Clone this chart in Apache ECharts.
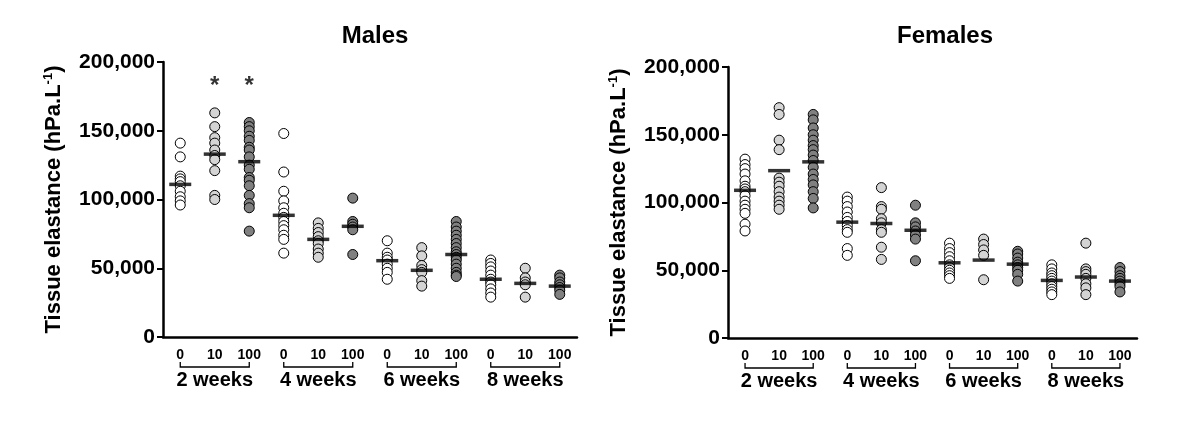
<!DOCTYPE html>
<html>
<head>
<meta charset="utf-8">
<title>Tissue elastance</title>
<script src="https://cdn.jsdelivr.net/npm/echarts@6/dist/echarts.min.js"></script>
<style>
  html, body { margin: 0; padding: 0; background: #fff; }
  #chart { width: 1200px; height: 422px; }
</style>
</head>
<body>
<div id="chart"></div>
<script>
// x axis: dose (0, 10, 100) inside each week group
const doseLabels = ['0', '10', '100', '0', '10', '100', '0', '10', '100', '0', '10', '100'];
const weekLabels = ['2 weeks', '4 weeks', '6 weeks', '8 weeks'];
const yMin = 0;
const yMax = 200000;
const yStep = 50000;

// Males, one inner list per week (2, 4, 6, 8)
const maleDose0 = [
  [141000, 131000, 117000, 115000, 113000, 110000, 106000, 102000, 99000, 96000],
  [148000, 120000, 106000, 99000, 94000, 90000, 87000, 84000, 81000, 78000, 74000, 71000, 61000],
  [70000, 61000, 58000, 56000, 53000, 50000, 47000, 42000],
  [56000, 53500, 51000, 48000, 45000, 42000, 40000, 38000, 35000, 32000, 29000]
];
const maleDose10 = [
  [163000, 153000, 145000, 141000, 136000, 132000, 129000, 121000, 103000, 100000],
  [83000, 79000, 76000, 73000, 70000, 68000, 64000, 61000, 58000],
  [65000, 59000, 52000, 49000, 47000, 41000, 37000],
  [50000, 43000, 40000, 38000, 29000]
];
const maleDose100 = [
  [156000, 153000, 150000, 146000, 143000, 138000, 136000, 131000, 125000, 122000, 116000, 114000, 110000, 103000, 97000, 94000, 77000],
  [101000, 84000, 82000, 80000, 78000, 60000],
  [84000, 80000, 77000, 74000, 71000, 68000, 65000, 62000, 60000, 58000, 56000, 53000, 50000, 47000, 45000, 44000],
  [45000, 43000, 40000, 38000, 36000, 34000, 31000]
];
const maleMedians = [111000, 133000, 127500, 88500, 71000, 80500, 55500, 48500, 60000, 42000, 39000, 37000];
const maleStars = [1, 2];
const starLevel = 182000;

// Females
const femaleDose0 = [
  [132000, 128000, 125000, 121000, 116000, 112000, 110000, 108000, 105000, 101000, 98000, 95000, 92000, 84000, 79000],
  [104000, 101000, 97000, 93000, 89000, 86000, 83000, 80000, 78000, 66000, 61000],
  [70000, 66000, 63000, 60000, 57000, 54000, 52000, 50000, 48000, 46000, 44000],
  [54000, 51000, 48000, 46000, 44000, 42000, 40000, 38000, 36000, 34000, 32000]
];
const femaleDose10 = [
  [170000, 165000, 146000, 139000, 118000, 115000, 112000, 108000, 104000, 101000, 98000, 95000],
  [111000, 97000, 95000, 88000, 85000, 80000, 78000, 67000, 58000],
  [73000, 69000, 65000, 61000, 43000],
  [70000, 51000, 49000, 47000, 44000, 40000, 37000, 32000]
];
const femaleDose100 = [
  [165000, 161000, 155000, 150000, 146000, 142000, 139000, 135000, 131000, 126000, 121000, 117000, 113000, 108000, 103000, 96000],
  [98000, 85000, 82000, 79000, 76000, 73000, 57000],
  [64000, 62000, 59000, 56000, 54000, 52000, 50000, 47000, 42000],
  [52000, 49000, 46000, 44000, 42000, 40000, 38000, 34000]
];
const femaleMedians = [109000, 123500, 130000, 85500, 84500, 79500, 55500, 57500, 54500, 42500, 45000, 42000];

const doseColors = ['#ffffff', '#d4d4d4', '#808080'];
const FONT = 'Liberation Sans, Arial, sans-serif';

function doseSeries(groups, dose, xi, yi) {
  return {
    type: 'scatter',
    xAxisIndex: xi,
    yAxisIndex: yi,
    symbol: 'circle',
    symbolSize: 10,
    itemStyle: { color: doseColors[dose], borderColor: '#000', borderWidth: 1, opacity: 1 },
    data: groups.flatMap((vals, w) => vals.map(v => [w * 3 + dose, v])),
    z: 3
  };
}

function medianSeries(medians, xi, yi) {
  return {
    type: 'scatter',
    xAxisIndex: xi,
    yAxisIndex: yi,
    symbol: 'rect',
    symbolSize: [22, 3.5],
    itemStyle: { color: '#000' },
    data: medians.map((m, i) => [i, m]),
    z: 5
  };
}

function bracketSeries(xi, yi) {
  return {
    type: 'custom',
    xAxisIndex: xi,
    yAxisIndex: yi,
    clip: false,
    silent: true,
    data: weekLabels.map((w, i) => [i * 3, i * 3 + 2]),
    renderItem: function (params, api) {
      const a = api.coord([api.value(0), 0]);
      const b = api.coord([api.value(1), 0]);
      const y = a[1] + 30;
      return {
        type: 'polyline',
        shape: { points: [[a[0], y - 5], [a[0], y], [b[0], y], [b[0], y - 5]] },
        style: { stroke: '#000', lineWidth: 1.3, fill: null }
      };
    }
  };
}

function doseAxis(gi) {
  return {
    type: 'category',
    gridIndex: gi,
    data: doseLabels,
    boundaryGap: true,
    axisLine: { lineStyle: { color: '#000', width: 2.5 } },
    axisTick: { alignWithLabel: true, length: 6, lineStyle: { color: '#000', width: 2 } },
    axisLabel: { interval: 0, margin: 11, color: '#000', fontFamily: FONT, fontWeight: 'bold', fontSize: 14 },
    splitLine: { show: false }
  };
}

function weekAxis(gi) {
  return {
    type: 'category',
    gridIndex: gi,
    position: 'bottom',
    data: weekLabels,
    boundaryGap: true,
    axisLine: { show: false },
    axisTick: { show: false },
    axisLabel: { interval: 0, margin: 33, color: '#000', fontFamily: FONT, fontWeight: 'bold', fontSize: 20 },
    splitLine: { show: false }
  };
}

function valueAxis(gi) {
  return {
    type: 'value',
    gridIndex: gi,
    min: yMin,
    max: yMax,
    interval: yStep,
    name: '{a|Tissue elastance (hPa.L}{s|-1}{a|)}',
    nameLocation: 'middle',
    nameGap: 98,
    nameTextStyle: {
      rich: {
        a: { fontFamily: FONT, fontWeight: 'bold', fontSize: 22, color: '#000' },
        s: { fontFamily: FONT, fontWeight: 'bold', fontSize: 13, color: '#000', verticalAlign: 'top', padding: [0, 0, 10, 0] }
      }
    },
    axisLine: { show: true, lineStyle: { color: '#000', width: 2.5 } },
    axisTick: { show: true, length: 6, lineStyle: { color: '#000', width: 2 } },
    axisLabel: {
      margin: 8, color: '#000', fontFamily: FONT, fontWeight: 'bold', fontSize: 21,
      formatter: v => v.toLocaleString('en-US')
    },
    splitLine: { show: false }
  };
}

const chart = echarts.init(document.getElementById('chart'));
chart.setOption({
  animation: false,
  backgroundColor: '#fff',
  title: [
    { text: 'Males', left: 370, top: 19, textAlign: 'center',
      textStyle: { fontFamily: FONT, fontWeight: 'bold', fontSize: 24, color: '#000' } },
    { text: 'Females', left: 940, top: 19, textAlign: 'center',
      textStyle: { fontFamily: FONT, fontWeight: 'bold', fontSize: 24, color: '#000' } }
  ],
  grid: [
    { left: 163, top: 62, width: 414, height: 275 },
    { left: 728, top: 67, width: 409, height: 271 }
  ],
  xAxis: [doseAxis(0), weekAxis(0), doseAxis(1), weekAxis(1)],
  yAxis: [valueAxis(0), valueAxis(1)],
  series: [
    doseSeries(maleDose0, 0, 0, 0),
    doseSeries(maleDose10, 1, 0, 0),
    doseSeries(maleDose100, 2, 0, 0),
    medianSeries(maleMedians, 0, 0),
    {
      type: 'scatter',
      xAxisIndex: 0,
      yAxisIndex: 0,
      symbolSize: 2,
      itemStyle: { color: 'rgba(0,0,0,0)' },
      label: { show: true, position: 'inside', formatter: '*', color: '#000', fontFamily: FONT, fontWeight: 'bold', fontSize: 24 },
      data: maleStars.map(i => [i, starLevel]),
      z: 6
    },
    bracketSeries(0, 0),
    doseSeries(femaleDose0, 0, 2, 1),
    doseSeries(femaleDose10, 1, 2, 1),
    doseSeries(femaleDose100, 2, 2, 1),
    medianSeries(femaleMedians, 2, 1),
    bracketSeries(2, 1)
  ]
});
</script>
</body>
</html>
